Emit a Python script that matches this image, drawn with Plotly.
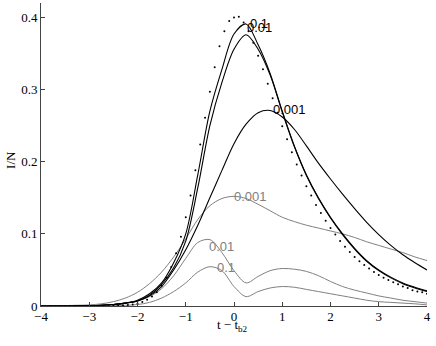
import plotly.graph_objects as go

# shared sample grid for the solid curves
t_grid = [-4, -3.75, -3.5, -3.25, -3, -2.75, -2.5, -2.25, -2, -1.75, -1.5, -1.25, -1,
          -0.75, -0.5, -0.25, 0, 0.25, 0.5, 0.75, 1, 1.25, 1.5, 1.75, 2, 2.25, 2.5,
          2.75, 3, 3.25, 3.5, 3.75, 4]

black_01 = [0, 0, 0, 0.0002, 0.0005, 0.001, 0.002, 0.004, 0.008, 0.017, 0.032, 0.06, 0.1,
            0.182, 0.27, 0.328, 0.377, 0.391, 0.362, 0.322, 0.27, 0.222, 0.182, 0.15, 0.123,
            0.1, 0.08, 0.063, 0.05, 0.04, 0.032, 0.026, 0.021]
black_001 = [0, 0, 0, 0.0002, 0.0005, 0.001, 0.002, 0.004, 0.007, 0.015, 0.03, 0.053, 0.09,
             0.164, 0.25, 0.31, 0.356, 0.376, 0.356, 0.32, 0.269, 0.221, 0.181, 0.149, 0.122,
             0.099, 0.079, 0.062, 0.049, 0.039, 0.031, 0.025, 0.02]
black_0001 = [0, 0, 0, 0.0002, 0.0005, 0.001, 0.002, 0.004, 0.007, 0.014, 0.027, 0.05, 0.078,
              0.112, 0.15, 0.188, 0.225, 0.252, 0.268, 0.271, 0.262, 0.245, 0.222, 0.198, 0.176,
              0.155, 0.135, 0.116, 0.099, 0.084, 0.071, 0.06, 0.05]
gray_0001 = [0, 0.0003, 0.0006, 0.001, 0.0015, 0.003, 0.006, 0.011, 0.019, 0.031, 0.047, 0.068,
             0.093, 0.12, 0.139, 0.149, 0.152, 0.149, 0.141, 0.132, 0.123, 0.117, 0.112, 0.108,
             0.104, 0.1, 0.095, 0.089, 0.084, 0.079, 0.074, 0.068, 0.063]
gray_001 = [0, 0, 0.0001, 0.0003, 0.0006, 0.001, 0.002, 0.004, 0.007, 0.013, 0.024, 0.042, 0.066,
            0.088, 0.092, 0.074, 0.049, 0.032, 0.041, 0.049, 0.052, 0.051, 0.048, 0.042, 0.034,
            0.027, 0.022, 0.018, 0.014, 0.011, 0.008, 0.006, 0.004]
gray_01 = [0, 0, 0, 0, 0.0001, 0.0003, 0.0006, 0.001, 0.002, 0.005, 0.011, 0.02, 0.032, 0.047,
           0.0545, 0.049, 0.027, 0.013, 0.02, 0.025, 0.027, 0.026, 0.023, 0.02, 0.017, 0.014,
           0.011, 0.008, 0.006, 0.005, 0.004, 0.003, 0.0015]

# dotted reference curve, sampled every 0.1 from -3.8 to 4.0
dot_t = [round(-3.8 + 0.1 * i, 1) for i in range(79)]
dot_y = [0, 0, 0, 0, 0, 0, 0, 0, 0, 0, 0, 0, 0,
         0.0002, 0.0005, 0.001, 0.0013, 0.002, 0.0035, 0.0056, 0.0087, 0.013, 0.019, 0.028,
         0.039, 0.054, 0.073, 0.096, 0.123, 0.153, 0.188, 0.224, 0.261, 0.297, 0.331, 0.36,
         0.381, 0.395,
         0.4, 0.401, 0.393, 0.381, 0.365, 0.347, 0.328, 0.308, 0.288, 0.268, 0.249, 0.231,
         0.213, 0.196, 0.181, 0.166, 0.153, 0.14, 0.129, 0.118, 0.108, 0.099, 0.09, 0.082,
         0.075, 0.068, 0.062, 0.057, 0.052, 0.047, 0.043, 0.039, 0.036, 0.033, 0.03, 0.027,
         0.025, 0.022, 0.02, 0.019, 0.017]

x_ticks = [-4, -3, -2, -1, 0, 1, 2, 3, 4]
y_ticks = [0, 0.1, 0.2, 0.3, 0.4]
y_tick_text = ["0", "0.1", "0.2", "0.3", "0.4"]

labels = [  # text, x, y, colour
    ("0.1", 0.29, 0.392, "black"),
    ("0.01", 0.235, 0.386, "black"),
    ("0.001", 0.775, 0.272, "black"),
    ("0.001", -0.04, 0.152, "#808080"),
    ("0.01", -0.56, 0.082, "#808080"),
    ("0.1", -0.40, 0.053, "#808080"),
]

GRAY = "#808080"
SERIF = "Liberation Serif"
SANS = "Liberation Sans"

fig = go.Figure()
for ys in (gray_0001, gray_001, gray_01):
    fig.add_trace(go.Scatter(x=t_grid, y=ys, mode="lines",
                             line=dict(color=GRAY, width=1, shape="spline", smoothing=0.9)))
for ys in (black_0001, black_001, black_01):
    fig.add_trace(go.Scatter(x=t_grid, y=ys, mode="lines",
                             line=dict(color="black", width=1.1, shape="spline", smoothing=0.9)))
fig.add_trace(go.Scatter(x=dot_t, y=dot_y, mode="markers",
                         marker=dict(color="black", size=2, line=dict(width=0))))

for txt, x, y, c in labels:
    fig.add_annotation(x=x, y=y, text=txt, showarrow=False, xanchor="left", yanchor="middle",
                       font=dict(family=SANS, size=13, color=c))

fig.add_annotation(xref="paper", yref="paper", x=0, y=0.482, xshift=-30, xanchor="center",
                   yanchor="middle", text="I/N", textangle=-90, showarrow=False,
                   font=dict(family=SERIF, size=13, color="black"))
fig.add_annotation(xref="paper", yref="paper", x=0.495, y=0, yshift=-9, xanchor="center",
                   yanchor="top", text="t − t<sub>b2</sub>", showarrow=False,
                   font=dict(family=SERIF, size=13, color="black"))

fig.update_layout(
    width=436, height=346,
    margin=dict(l=41, r=9, t=3, b=40),
    plot_bgcolor="white", paper_bgcolor="white",
    showlegend=False,
    font=dict(family=SERIF, size=13, color="black"),
)
fig.update_xaxes(range=[-4, 4], tickvals=x_ticks, ticks="inside", ticklen=4, tickcolor="#444",
                 showline=True, linecolor="#444", linewidth=1, showgrid=False, zeroline=False,
                 ticklabeloverflow="allow", ticklabelstandoff=-2,
                 tickfont=dict(family=SERIF, size=13, color="black"))
fig.update_yaxes(range=[0, 0.42], tickvals=y_ticks, ticktext=y_tick_text, ticks="inside",
                 ticklen=4, tickcolor="#444", showline=True, linecolor="#444", linewidth=1,
                 showgrid=False, zeroline=False, ticklabeloverflow="allow",
                 tickfont=dict(family=SERIF, size=13, color="black"))

fig.write_html("out.html", config={"displayModeBar": False},
               post_script="document.body.style.margin='0';")
